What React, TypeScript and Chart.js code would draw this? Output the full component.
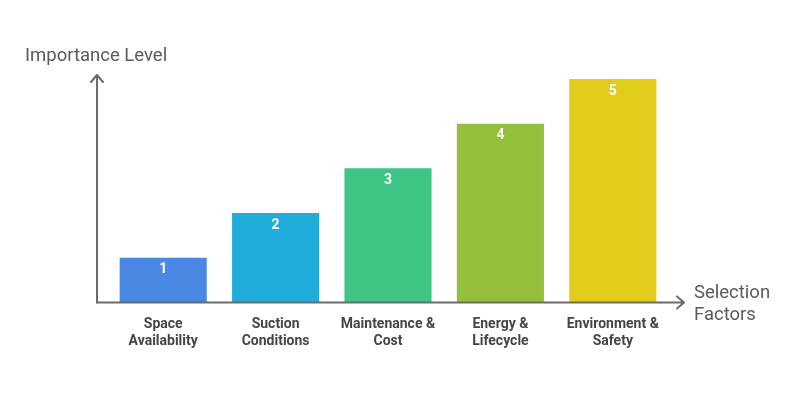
import React, { useEffect, useRef } from "react";
import { Chart, registerables } from "chart.js";

Chart.register(...registerables);

const categories: string[][] = [
  ["Space", "Availability"],
  ["Suction", "Conditions"],
  ["Maintenance &", "Cost"],
  ["Energy &", "Lifecycle"],
  ["Environment &", "Safety"],
];
const values: number[] = [1, 2, 3, 4, 5];
const barColors: string[] = ["#4a88e5", "#20acdb", "#3ec585", "#93bf3b", "#e0cc19"];
const yAxisTitle = "Importance Level";
const xAxisTitle = ["Selection", "Factors"];

const FONT = "Roboto, 'Noto Sans', sans-serif";

const decorPlugin = {
  id: "decor",
  afterDatasetsDraw(chart: any) {
    const { ctx, chartArea } = chart;
    const x0 = chartArea.left - 10;
    const y0 = chartArea.bottom;
    const yTop = chartArea.top - 4;
    const xEnd = chartArea.right + 15;
    ctx.save();
    ctx.strokeStyle = "#6b6b6b";
    ctx.lineWidth = 2;
    ctx.lineCap = "round";
    ctx.lineJoin = "round";
    // y axis
    ctx.beginPath();
    ctx.moveTo(x0, y0);
    ctx.lineTo(x0, yTop);
    ctx.moveTo(x0 - 6, yTop + 7);
    ctx.lineTo(x0, yTop);
    ctx.lineTo(x0 + 6, yTop + 7);
    ctx.stroke();
    // x axis
    ctx.beginPath();
    ctx.moveTo(x0, y0);
    ctx.lineTo(xEnd, y0);
    ctx.moveTo(xEnd - 7, y0 - 6);
    ctx.lineTo(xEnd, y0);
    ctx.lineTo(xEnd - 7, y0 + 6);
    ctx.stroke();

    // titles
    ctx.fillStyle = "#5a5a5a";
    ctx.font = `18.5px ${FONT}`;
    ctx.textBaseline = "middle";
    ctx.textAlign = "left";
    ctx.fillText(yAxisTitle, 25, 56);
    xAxisTitle.forEach((t, i) => ctx.fillText(t, xEnd + 10, y0 - 9 + i * 22));

    // value labels
    const meta = chart.getDatasetMeta(0);
    ctx.fillStyle = "#ffffff";
    ctx.font = `bold 14px ${FONT}`;
    ctx.textAlign = "center";
    meta.data.forEach((bar: any, i: number) => {
      ctx.fillText(String(values[i]), bar.x, bar.y + 12);
    });
    ctx.restore();
  },
};

export default function App() {
  const ref = useRef<HTMLCanvasElement | null>(null);
  useEffect(() => {
    if (!ref.current) return;
    const chart = new Chart(ref.current, {
      type: "bar",
      data: {
        labels: categories,
        datasets: [
          {
            data: values,
            backgroundColor: barColors,
            borderWidth: 0,
            barPercentage: 0.775,
            categoryPercentage: 1,
          },
        ],
      },
      options: {
        responsive: false,
        animation: false,
        layout: { padding: { left: 107, right: 131, top: 79, bottom: 34 } },
        plugins: { legend: { display: false }, tooltip: { enabled: false } },
        scales: {
          x: {
            grid: { display: false, drawTicks: false },
            border: { display: false },
            ticks: {
              color: "#454545",
              font: { family: FONT, size: 14, weight: "bold", lineHeight: 1.2 },
              padding: 14,
              maxRotation: 0,
              autoSkip: false,
            },
          },
          y: { display: false, min: 0, max: 5 },
        },
      },
      plugins: [decorPlugin],
    });
    return () => chart.destroy();
  }, []);
  return (
    <div style={{ position: "absolute", left: 0, top: 0, width: 800, height: 398, background: "#fff" }}>
      <canvas ref={ref} width={800} height={398} />
    </div>
  );
}
